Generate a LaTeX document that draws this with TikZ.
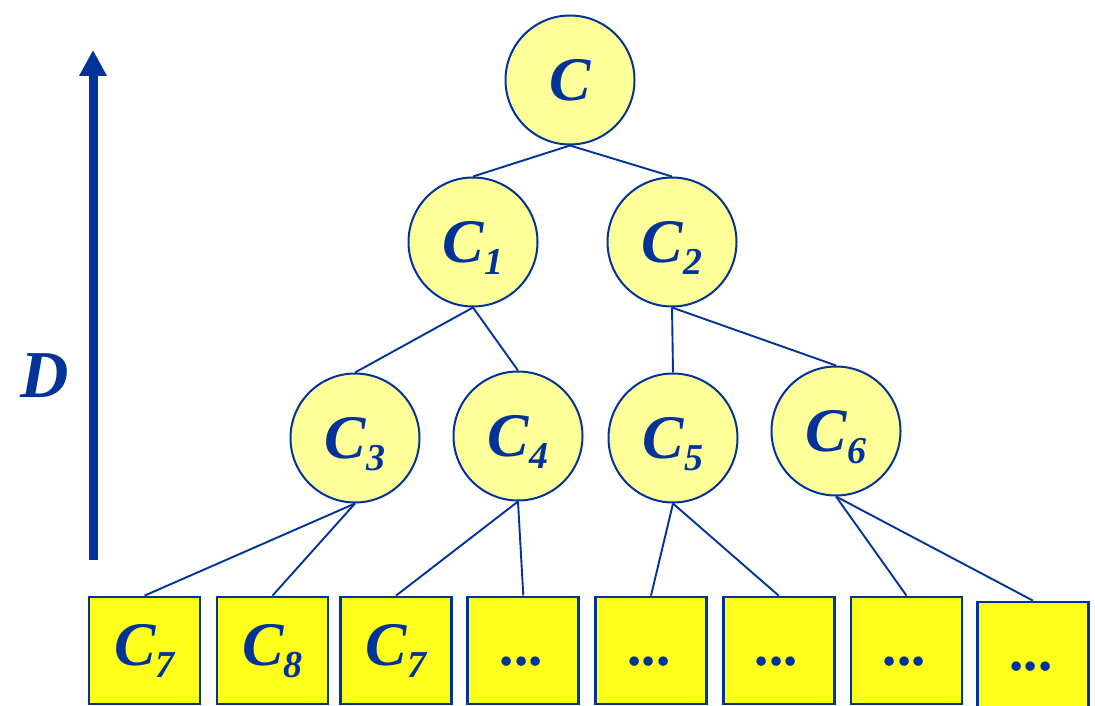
\documentclass[tikz,border=0pt]{standalone}
\usepackage{fontspec}
\setmainfont{Liberation Serif}
\usetikzlibrary{arrows.meta}
\definecolor{dblue}{HTML}{003399}
\definecolor{paley}{HTML}{FFFF99}
\definecolor{brighty}{HTML}{FFFF1A}
\newcommand{\bigC}[1]{{\fontsize{62}{62}\selectfont C}\raisebox{-12pt}{\fontsize{38}{38}\selectfont #1}}
\newcommand{\soloC}{{\fontsize{62}{62}\selectfont C}}
\newcommand{\dotsl}{{\fontsize{58}{58}\selectfont ...}}
\begin{document}
\begin{tikzpicture}[x=1pt,y=-1pt,
  every node/.style={font=\bfseries\itshape, text=dblue},
  circ/.style={circle, draw=dblue, line width=2pt, fill=paley, minimum size=129pt, inner sep=0pt, text height=41pt, text depth=0pt},
  sq/.style={rectangle, draw=dblue, line width=2.7pt, fill=brighty, minimum width=111pt, minimum height=107pt, inner sep=0pt, text height=41pt, text depth=12pt},
  conn/.style={draw=dblue, line width=1.9pt}]
\useasboundingbox (0,0) rectangle (1095,706);
% arrow
\coordinate (abot) at (93,560);
\coordinate (atop) at (93,50);
\draw[draw=dblue, line width=9pt, -{Triangle[width=26pt,length=26pt]}, dblue] (abot) -- (atop);
\node[anchor=base, font=\fontsize{67}{67}\selectfont\bfseries\itshape] (dlab) at (45,397) {D};
% circles
\node[circ] (c)  at (570,80)  {\soloC};
\node[circ] (c1) at (473,242) {\bigC{1}};
\node[circ] (c2) at (672,242) {\bigC{2}};
\node[circ] (c3) at (355,438) {\bigC{3}};
\node[circ] (c4) at (518,436) {\bigC{4}};
\node[circ] (c5) at (673,438) {\bigC{5}};
\node[circ] (c6) at (836,431) {\bigC{6}};
% squares
\node[sq] (s1) at (144.5,650.5) {\bigC{7}};
\node[sq] (s2) at (272.5,650.5) {\bigC{8}};
\node[sq] (s3) at (396,650.5) {\bigC{7}};
\node[sq] (s4) at (523.3,650.5) {\dotsl};
\node[sq] (s5) at (651,650.5) {\dotsl};
\node[sq] (s6) at (778.7,650.5) {\dotsl};
\node[sq] (s7) at (906.5,650.5) {\dotsl};
\node[sq] (s8) at (1033,655.5) {\dotsl};
% connectors
\draw[conn] (c.south) -- (c1.north);
\draw[conn] (c.south) -- (c2.north);
\draw[conn] (c1.south) -- (c3.north);
\draw[conn] (c1.south) -- (c4.north);
\draw[conn] (c2.south) -- (c5.north);
\draw[conn] (c2.south) -- (c6.north);
\draw[conn] (c3.south) -- (s1.north);
\draw[conn] (c3.south) -- (s2.north);
\draw[conn] (c4.south) -- (s3.north);
\draw[conn] (c4.south) -- (s4.north);
\draw[conn] (c5.south) -- (s5.north);
\draw[conn] (c5.south) -- (s6.north);
\draw[conn] (c6.south) -- (s7.north);
\draw[conn] (c6.south) -- (s8.north);
\end{tikzpicture}
\end{document}
